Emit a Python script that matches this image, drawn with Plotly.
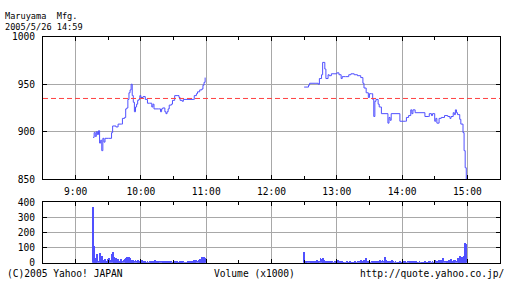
import plotly.graph_objects as go
import pandas as pd

DAY = "2005-05-26 "

# ---- price data (time, price) ----
am_times = ["09:16","09:17","09:18","09:19","09:20","09:21","09:22","09:23","09:24","09:25",
            "09:26","09:27","09:30","09:33","09:34","09:37","09:39","09:42","09:43","09:45",
            "09:46","09:47","09:48","09:49","09:50","09:51","09:52","09:53","09:54","09:55",
            "09:56","09:57","09:58","09:59","10:00","10:02","10:04","10:06","10:08","10:10",
            "10:11","10:12","10:16","10:18","10:19","10:20","10:22","10:23","10:24","10:25",
            "10:26","10:28","10:29","10:31","10:34","10:35","10:36","10:38","10:39","10:48",
            "10:49","10:51","10:52","10:54","10:56","10:57","10:58","10:59"]
am_prices = [894, 899, 895, 900, 897, 901, 888, 891, 880, 893,
             889, 893, 893, 899, 906, 905, 908, 908, 914, 915,
             924, 925, 934, 941, 944, 950, 938, 931, 921, 926,
             929, 933, 934, 938, 936, 937, 934, 930, 930, 926,
             929, 924, 924, 921, 924, 925, 921, 919, 921, 924,
             928, 929, 933, 938, 938, 936, 933, 932, 934, 934,
             938, 940, 942, 944, 945, 949, 952, 957]

pm_times = ["12:30","12:34","12:35","12:40","12:43","12:44","12:46","12:47","12:49","12:50",
            "12:52","12:53","12:55","13:00","13:02","13:04","13:05","13:08","13:11","13:13",
            "13:16","13:19","13:22","13:24","13:25","13:27","13:29","13:30","13:32","13:33",
            "13:34","13:35","13:36","13:38","13:39","13:41","13:47","13:48","13:49","13:50",
            "13:58","14:03","14:04","14:06","14:08","14:09","14:10","14:12","14:21","14:24",
            "14:25","14:27","14:28","14:30","14:31","14:32","14:34","14:36","14:39","14:42",
            "14:44","14:45","14:47","14:48","14:49","14:50","14:51","14:53","14:54","14:56",
            "14:57","14:58","14:59"]
pm_prices = [947, 949, 951, 951, 950, 956, 960, 973, 966, 956,
             960, 959, 961, 962, 960, 956, 958, 958, 960, 961,
             960, 959, 957, 951, 946, 941, 936, 940, 940, 934,
             916, 932, 934, 929, 926, 919, 909, 915, 912, 919,
             911, 911, 915, 917, 923, 919, 923, 920, 916, 916,
             919, 917, 919, 911, 914, 909, 914, 915, 917, 916,
             914, 916, 920, 918, 923, 920, 918, 913, 908, 899,
             880, 862, 849]

prev_close = 935

# ---- volume data (x1000), one value per minute ----
am_vol_start = "09:16"
am_volume = [366, 107, 33, 12, 55, 10, 62, 20, 45, 8, 19, 24, 12, 6, 27, 33, 18, 55, 70, 40,
             22, 30, 15, 24, 8, 12, 22, 10, 18, 25, 30, 37, 28, 35, 30, 20, 15, 18, 12, 16,
             10, 14, 8, 12, 6, 20, 10, 4, 12, 3, 8, 2, 5, 3, 10, 4, 2, 14, 6, 9,
             3, 11, 4, 6, 2, 13, 4, 7, 3, 8, 2, 11, 5, 3, 13, 6, 2, 4, 1, 3,
             12, 5, 2, 4, 1, 3, 2, 6, 1, 4, 2, 9, 3, 18, 6, 20, 8, 15, 25, 10,
             38, 20, 38, 30]
pm_vol_start = "12:30"
pm_volume = [70, 5, 2, 10, 4, 8, 3, 12, 5, 2, 9, 4, 14, 6, 8, 30, 22, 32, 15, 10,
             8, 12, 5, 9, 4, 3, 6, 2, 4, 1, 3, 15, 4, 8, 2, 5, 1, 3, 2, 6,
             1, 2, 4, 1, 3, 2, 1, 4, 2, 12, 5, 9, 14, 6, 10, 18, 8, 30, 12, 6,
             9, 3, 5, 2, 12, 4, 6, 2, 8, 3, 14, 5, 20, 8, 36, 15, 12, 6, 4, 10,
             3, 18, 6, 2, 4, 1, 3, 2, 6, 2, 3, 8, 4, 10, 2, 5, 7, 3, 9, 4,
             12, 5, 2, 4, 1, 3, 6, 2, 3, 1, 2, 4, 1, 3, 2, 12, 5, 3, 8, 2,
             20, 6, 10, 4, 14, 8, 18, 5, 30, 10, 6, 12, 4, 16, 8, 25, 10, 6, 14, 20,
             8, 30, 12, 44, 18, 40, 10, 45, 132, 122]

price_ticks = [850, 900, 950, 1000]
vol_ticks = [0, 100, 200, 300, 400]

title_line1 = "Maruyama  Mfg."
title_line2 = "2005/5/26 14:59"
footer_left = "(C)2005 Yahoo! JAPAN"
footer_mid = "Volume (x1000)"
footer_right = "http://quote.yahoo.co.jp/"

# ---- build ----
W, H = 512, 288
FONT = "DejaVu Sans Mono"
FS = 9.6
FS_TITLE = 8.6
BLUE = "#5050ff"
GRID = "#a8a8a8"

def px(x):
    return x / W

def py(y):
    return 1 - y / H

x_price = [DAY + t for t in am_times] + [None] + [DAY + t for t in pm_times]
y_price = am_prices + [None] + pm_prices

x_vol = list(pd.date_range(DAY + am_vol_start, periods=len(am_volume), freq="min")) + \
        list(pd.date_range(DAY + pm_vol_start, periods=len(pm_volume), freq="min"))
y_vol = am_volume + pm_volume

fig = go.Figure()
fig.add_trace(go.Scatter(x=x_price, y=y_price, mode="lines", line=dict(color=BLUE, width=1, shape="hv"),
                         connectgaps=False, xaxis="x", yaxis="y", showlegend=False, hoverinfo="skip"))
fig.add_trace(go.Bar(x=x_vol, y=y_vol, marker=dict(color=BLUE, line=dict(width=0)), width=50000,
                     xaxis="x2", yaxis="y2", showlegend=False, hoverinfo="skip"))

fig.add_shape(type="line", xref="x domain", yref="y", x0=0, x1=1, y0=prev_close, y1=prev_close,
              line=dict(color="#ff4040", width=1, dash="5px,3px"))

xr = [DAY + "08:30", DAY + "15:30"]
xdom = [px(43), px(500)]
common_x = dict(range=xr, type="date", showgrid=True, gridcolor=GRID, gridwidth=1,
                dtick=3600000, tick0=DAY + "09:00", ticks="inside", ticklen=4, tickcolor="black",
                showline=True, linecolor="black", linewidth=1, mirror="allticks",
                minor=dict(dtick=1800000, tick0=DAY + "08:30", ticks="inside", ticklen=3,
                           tickcolor="black", showgrid=False),
                zeroline=False, domain=xdom, fixedrange=True)

fig.update_layout(
    width=W, height=H, margin=dict(l=0, r=0, t=0, b=0),
    paper_bgcolor="white", plot_bgcolor="white",
    font=dict(family=FONT, size=FS, color="black"),
    bargap=0,
    xaxis=dict(**common_x, anchor="y", tickformat="%-H:%M", showticklabels=True,
               ticklabelstandoff=3, tickfont=dict(family=FONT, size=FS, color="black")),
    xaxis2=dict(**common_x, anchor="y2", matches="x", showticklabels=False),
    yaxis=dict(domain=[py(180), py(32)], range=[850, 1000], tickvals=price_ticks,
               showgrid=True, gridcolor=GRID, ticks="inside", ticklen=4, tickcolor="black",
               showline=True, linecolor="black", mirror="allticks", zeroline=False,
               ticklabelstandoff=5, tickfont=dict(family=FONT, size=FS), anchor="x", fixedrange=True),
    yaxis2=dict(domain=[py(267), py(204)], range=[0, 400], tickvals=vol_ticks,
                showgrid=True, gridcolor=GRID, ticks="inside", ticklen=4, tickcolor="black",
                showline=True, linecolor="black", mirror="allticks", zeroline=False,
                ticklabelstandoff=5, tickfont=dict(family=FONT, size=FS), anchor="x2", fixedrange=True),
)

def note(text, x, y, xanchor="left", size=FS):
    fig.add_annotation(text=text, xref="paper", yref="paper", x=px(x), y=py(y),
                       xanchor=xanchor, yanchor="middle", showarrow=False, borderpad=0,
                       font=dict(family=FONT, size=size, color="black"))

note(title_line1, 4, 10.5, size=FS_TITLE)
note(title_line2, 4, 21.5, size=FS_TITLE)
note(footer_left, 6, 278)
note(footer_mid, 254, 278, "center")
note(footer_right, 506, 278, "right")

fig.write_html("out.html")
